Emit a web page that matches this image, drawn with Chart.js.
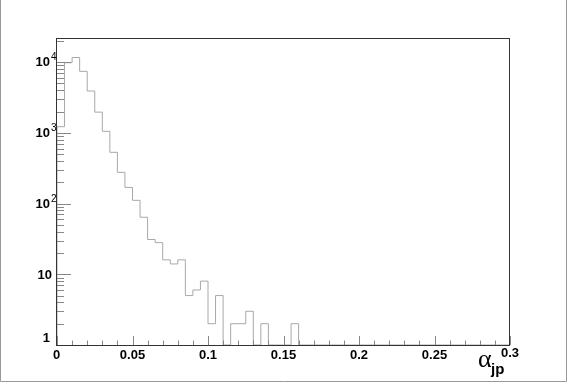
<!DOCTYPE html>
<html>
<head>
<meta charset="utf-8">
<script src="https://cdn.jsdelivr.net/npm/chart.js@4.4.1/dist/chart.umd.min.js"></script>
<style>
  html, body { margin: 0; padding: 0; background: #fff; }
  #histo { display: block; }
</style>
</head>
<body>
<canvas id="histo" width="567" height="384"></canvas>
<script>
// histogram of alpha_jp, 60 bins of 0.005 from 0 to 0.3
const binLow = 0;
const binWidth = 0.005;
const counts = [
  1220, 9800, 11600, 7400, 3900, 1960, 1050, 530, 276, 169,
  111, 64, 31, 28, 16, 14, 16, 5, 6, 8,
  2, 5, 0, 2, 2, 3, 0, 2, 0, 0,
  0, 2, 0, 0, 0, 0, 0, 0, 0, 0,
  0, 0, 0, 0, 0, 0, 0, 0, 0, 0,
  0, 0, 0, 0, 0, 0, 0, 0, 0, 0
];

const xTickValues = [0, 0.05, 0.1, 0.15, 0.2, 0.25, 0.3];
const xTickLabels = ['0', '0.05', '0.1', '0.15', '0.2', '0.25', '0.3'];
const yTickValues = [1, 10, 100, 1000, 10000];
const yTickLabels = [['1', ''], ['10', ''], ['10', '2'], ['10', '3'], ['10', '4']];

const Y_MIN = 1;
const Y_MAX = 21900;

// step outline: start on the floor, then one point per bin edge
// (stepped 'before': horizontal at the previous value, then vertical)
const points = [{ x: binLow, y: Y_MIN }];
counts.forEach(function (c, i) {
  points.push({ x: binLow + i * binWidth, y: Math.max(c, Y_MIN) });
});
points.push({ x: binLow + counts.length * binWidth, y: Y_MIN });

const FONT = '"Liberation Sans", Arial, Helvetica, sans-serif';

const rootStyle = {
  id: 'rootStyle',
  afterDraw(chart) {
    const ctx = chart.ctx;
    const a = chart.chartArea;
    const xs = chart.scales.x;
    const ys = chart.scales.y;
    ctx.save();

    // canvas border
    ctx.strokeStyle = '#999';
    ctx.lineWidth = 1;
    ctx.beginPath();
    ctx.moveTo(0.5, 0); ctx.lineTo(0.5, 381.5);
    ctx.lineTo(566.5, 381.5); ctx.lineTo(566.5, 0);
    ctx.stroke();

    // ticks on y (inside)
    ctx.strokeStyle = '#888';
    ctx.beginPath();
    for (let d = 0; d < 5; d++) {
      for (let m = 1; m < 10; m++) {
        const v = m * Math.pow(10, d);
        if (v > Y_MAX) break;
        const py = Math.round(ys.getPixelForValue(v)) + 0.5;
        const len = m === 1 ? 14 : 7;
        ctx.moveTo(a.left, py); ctx.lineTo(a.left + len, py);
      }
    }
    // ticks on x (inside)
    for (let k = 0; k <= 30; k++) {
      const v = k * 0.01;
      const px = Math.round(xs.getPixelForValue(v)) + 0.5;
      const len = k % 5 === 0 ? 9 : 4.5;
      ctx.moveTo(px, a.bottom); ctx.lineTo(px, a.bottom - len);
    }
    ctx.stroke();

    // frame
    ctx.strokeStyle = '#333';
    ctx.lineWidth = 1;
    ctx.strokeRect(Math.round(a.left) - 0.5, Math.round(a.top) + 0.5,
      Math.round(a.right - a.left), Math.round(a.bottom - a.top));

    // x labels
    ctx.fillStyle = '#000';
    ctx.font = 'bold 13px ' + FONT;
    ctx.textBaseline = 'alphabetic';
    xTickValues.forEach(function (v, i) {
      const px = xs.getPixelForValue(v);
      ctx.textAlign = i === 0 ? 'left' : 'center';
      const off = i === 0 ? -4 : 0;
      const by = i === xTickValues.length - 1 ? 357 : 359;
      ctx.fillText(xTickLabels[i], px + off, by);
    });

    // y labels with exponent
    yTickValues.forEach(function (v, i) {
      const py = ys.getPixelForValue(v);
      const base = yTickLabels[i][0];
      const exp = yTickLabels[i][1];
      ctx.font = 'bold 13px ' + FONT;
      ctx.textAlign = 'right';
      if (i === 0) {
        ctx.fillText(base, 50, py - 3);
      } else if (exp === '') {
        ctx.fillText(base, 52, py + 5);
      } else {
        ctx.fillText(base, 50, py + 4);
        ctx.font = '10px ' + FONT;
        ctx.textAlign = 'left';
        ctx.fillText(exp, 51, py - 2);
      }
    });

    // axis title alpha_jp
    ctx.textAlign = 'left';
    ctx.font = '26px "Liberation Serif", "Times New Roman", serif';
    ctx.fillText('\u03b1', 478, 367);
    ctx.font = 'bold 15px ' + FONT;
    ctx.fillText('jp', 491, 374);

    ctx.restore();
  }
};

new Chart(document.getElementById('histo').getContext('2d'), {
  type: 'line',
  data: {
    datasets: [{
      data: points,
      stepped: 'before',
      borderColor: '#a8a8a8',
      borderWidth: 1,
      pointRadius: 0,
      fill: false
    }]
  },
  options: {
    responsive: false,
    animation: false,
    layout: { padding: { left: 0, top: 38, right: 57, bottom: 0 } },
    plugins: { legend: { display: false }, tooltip: { enabled: false } },
    scales: {
      x: {
        type: 'linear',
        min: 0,
        max: 0.3,
        ticks: { display: false },
        grid: { display: false },
        border: { display: false },
        afterFit(s) { s.height = 39; }
      },
      y: {
        type: 'logarithmic',
        min: Y_MIN,
        max: Y_MAX,
        ticks: { display: false },
        grid: { display: false },
        border: { display: false },
        afterFit(s) { s.width = 57; }
      }
    }
  },
  plugins: [rootStyle]
});
</script>
</body>
</html>
